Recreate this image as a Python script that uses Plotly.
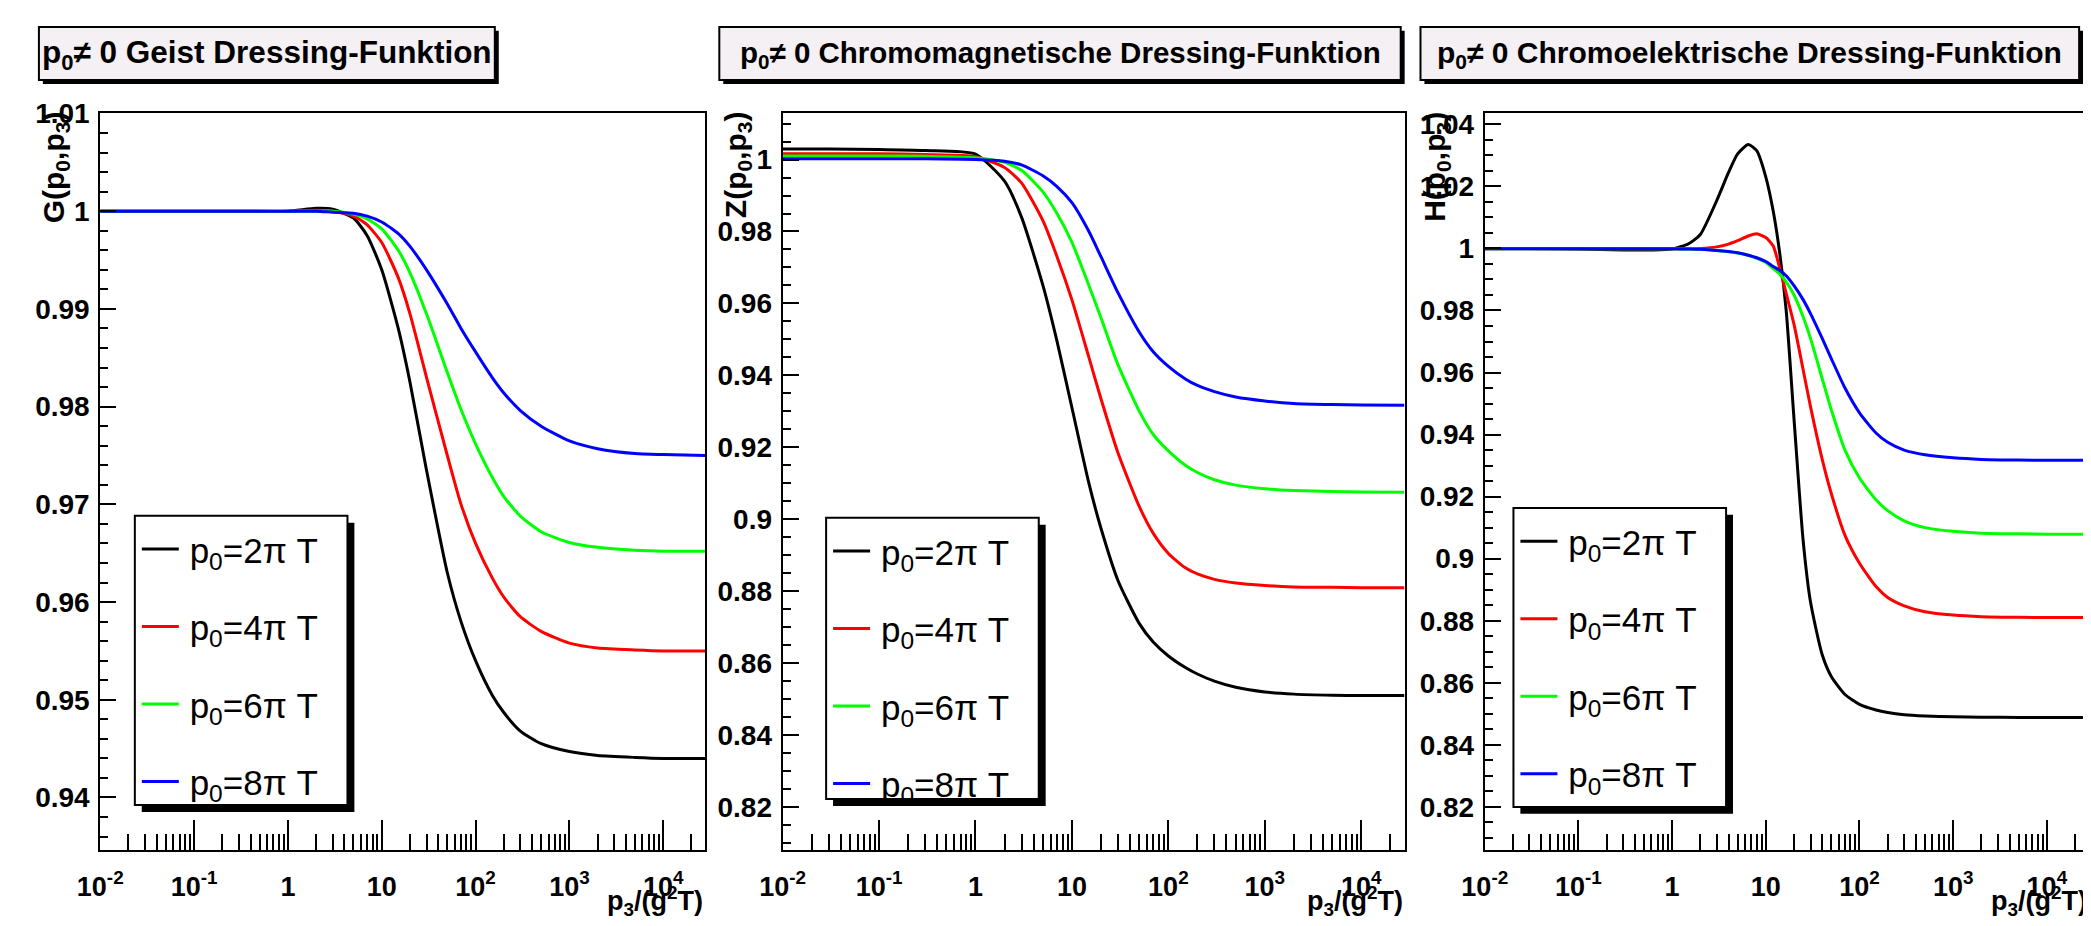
import plotly.graph_objects as go

# ---------------- data ----------------
# sample positions p3/(g^2 T) for the G and Z panels
x_GZ = [0.01, 0.03, 0.1, 0.3, 1, 2, 3, 5, 7, 10, 15, 20, 30, 50, 70, 100,
        150, 200, 300, 500, 1000, 2000, 5000, 10000, 28000]
# sample positions for the H panel (denser around the bump)
x_H = [0.01, 0.03, 0.1, 0.3, 0.6, 1, 1.5, 2, 3, 4, 5, 6.5, 8, 10, 12, 14, 16.5, 20, 25, 30,
       40, 50, 70, 100, 150, 200, 300, 500, 1000, 2000, 5000, 10000, 28000]

series_names = ["\u2006p<sub>0</sub>=2π T", "\u2006p<sub>0</sub>=4π T",
                "\u2006p<sub>0</sub>=6π T", "\u2006p<sub>0</sub>=8π T"]
series_colors = ["#000000", "#ff0000", "#00ff00", "#0000ff"]

# Geist (ghost) dressing function G
G_2pi = [1, 1, 1, 1, 1.0000, 1.0003, 1.0002, 0.9993, 0.9975, 0.9940, 0.9880, 0.9825, 0.9735,
         0.9630, 0.9580, 0.9540, 0.9505, 0.9487, 0.9468, 0.9455, 0.9447, 0.9443, 0.9441, 0.9440, 0.9440]
G_4pi = [1, 1, 1, 1, 1.0000, 1.0001, 1.0000, 0.9995, 0.9986, 0.9968, 0.9932, 0.9895, 0.9830,
         0.9750, 0.9700, 0.9660, 0.9625, 0.9605, 0.9585, 0.9570, 0.9558, 0.9553, 0.9551, 0.9550, 0.9550]
G_6pi = [1, 1, 1, 1, 1.0000, 1.0000, 1.0000, 0.9997, 0.9992, 0.9982, 0.9960, 0.9937, 0.9895,
         0.9835, 0.9797, 0.9762, 0.9728, 0.9708, 0.9688, 0.9672, 0.9661, 0.9656, 0.9653, 0.9652, 0.9652]
G_8pi = [1, 1, 1, 1, 1.0000, 1.0000, 0.9999, 0.9998, 0.9995, 0.9989, 0.9977, 0.9964, 0.9940,
         0.9905, 0.9880, 0.9856, 0.9830, 0.9814, 0.9796, 0.9780, 0.9765, 0.9757, 0.9752, 0.9751, 0.9750]

# Chromomagnetic dressing function Z
Z_2pi = [1.0029, 1.0029, 1.0028, 1.0025, 1.0015, 0.9940, 0.9840, 0.9650, 0.9495, 0.9310, 0.9100,
         0.8975, 0.8830, 0.8710, 0.8658, 0.8620, 0.8588, 0.8570, 0.8550, 0.8533, 0.8520, 0.8514, 0.8511, 0.8510, 0.8510]
Z_4pi = [1.0016, 1.0016, 1.0016, 1.0014, 1.0008, 0.9978, 0.9935, 0.9830, 0.9730, 0.9610, 0.9450,
         0.9335, 0.9185, 0.9035, 0.8960, 0.8905, 0.8865, 0.8848, 0.8833, 0.8823, 0.8816, 0.8812, 0.8811, 0.8810, 0.8810]
Z_6pi = [1.0010, 1.0010, 1.0010, 1.0009, 1.0005, 0.9992, 0.9970, 0.9910, 0.9850, 0.9770, 0.9650,
         0.9560, 0.9430, 0.9300, 0.9235, 0.9190, 0.9150, 0.9130, 0.9110, 0.9095, 0.9085, 0.9080, 0.9077, 0.9076, 0.9075]
Z_8pi = [1.0002, 1.0002, 1.0002, 1.0002, 1.0000, 0.9995, 0.9985, 0.9955, 0.9925, 0.9880, 0.9800,
         0.9730, 0.9630, 0.9520, 0.9465, 0.9425, 0.9390, 0.9372, 0.9355, 0.9340, 0.9329, 0.9322, 0.9319, 0.9318, 0.9317]

# Chromoelectric dressing function H
H_2pi = [1.0000, 1.0000, 0.9998, 0.9995, 0.9995, 0.9998, 1.0015, 1.0045, 1.0155, 1.0245, 1.0305, 1.0335,
         1.0315, 1.0230, 1.0120, 0.9990, 0.9800, 0.9450, 0.9060, 0.8860, 0.8690, 0.8620, 0.8562, 0.8530,
         0.8512, 0.8504, 0.8497, 0.8493, 0.8490, 0.8489, 0.8488, 0.8488, 0.8488]
H_4pi = [0.9999, 0.9999, 0.9999, 0.9999, 0.9999, 0.9999, 0.9999, 1.0000, 1.0005, 1.0014, 1.0025, 1.0040,
         1.0047, 1.0035, 1.0008, 0.9939, 0.9855, 0.9755, 0.9610, 0.9490, 0.9320, 0.9210, 0.9075, 0.8985,
         0.8910, 0.8875, 0.8848, 0.8829, 0.8818, 0.8813, 0.8811, 0.8810, 0.8810]
H_6pi = [0.9999, 0.9999, 0.9999, 0.9999, 0.9999, 0.9999, 0.9998, 0.9997, 0.9993, 0.9989, 0.9985, 0.9978,
         0.9968, 0.9955, 0.9935, 0.9918, 0.9892, 0.9850, 0.9780, 0.9710, 0.9580, 0.9480, 0.9350, 0.9260,
         0.9190, 0.9155, 0.9122, 0.9100, 0.9088, 0.9082, 0.9080, 0.9079, 0.9079]
H_8pi = [0.9999, 0.9999, 0.9999, 0.9999, 0.9999, 0.9999, 0.9998, 0.9997, 0.9993, 0.9990, 0.9986, 0.9978,
         0.9970, 0.9958, 0.9942, 0.9930, 0.9912, 0.9880, 0.9835, 0.9790, 0.9710, 0.9645, 0.9550, 0.9470,
         0.9405, 0.9375, 0.9350, 0.9335, 0.9325, 0.9320, 0.9318, 0.9317, 0.9317]

panel_titles = ["p<sub>0</sub>≠ 0 Geist Dressing-Funktion",
                "p<sub>0</sub>≠ 0 Chromomagnetische Dressing-Funktion",
                "p<sub>0</sub>≠ 0 Chromoelektrische Dressing-Funktion"]
y_titles = ["G(p<sub>0</sub>,p<sub>3</sub>)", "Z(p<sub>0</sub>,p<sub>3</sub>)", "H(p<sub>0</sub>,p<sub>3</sub>)"]
x_title = "p<sub>3</sub>/(g<sup>2</sup>T)"

x_tickvals = [0.01, 0.1, 1, 10, 100, 1000, 10000]
x_ticktext = ["10<sup>-2</sup>", "10<sup>-1</sup>", "1", "10", "10<sup>2</sup>", "10<sup>3</sup>", "10<sup>4</sup>"]

y1_tickvals = [0.94, 0.95, 0.96, 0.97, 0.98, 0.99, 1.0, 1.01]
y1_ticktext = ["0.94", "0.95", "0.96", "0.97", "0.98", "0.99", "1", "1.01"]
y2_tickvals = [0.82, 0.84, 0.86, 0.88, 0.90, 0.92, 0.94, 0.96, 0.98, 1.0]
y2_ticktext = ["0.82", "0.84", "0.86", "0.88", "0.9", "0.92", "0.94", "0.96", "0.98", "1"]
y3_tickvals = [0.82, 0.84, 0.86, 0.88, 0.90, 0.92, 0.94, 0.96, 0.98, 1.0, 1.02, 1.04]
y3_ticktext = ["0.82", "0.84", "0.86", "0.88", "0.9", "0.92", "0.94", "0.96", "0.98", "1", "1.02", "1.04"]

y_ranges = [[0.9346, 1.0100], [0.8080, 1.0128], [0.8060, 1.0435]]
x_log_range = [-2, 4.45]

# ---------------- layout geometry (page pixels of the 2091x926 window) ----------------
PAGE_W, PAGE_H = 2091, 926
OFF = 8                       # default body margin of the html page
W, H = PAGE_W - OFF, PAGE_H - OFF

FRAME_TOP, FRAME_BOTTOM = 100, 849
frames_x = [(78, 690), (768, 1397), (1478, 2089)]
title_boxes = [(16, 12, 477, 66), (704, 12, 1393, 66), (1413, 12, 2079, 66)]
title_sizes = [31.5, 29.5, 30]
legend_boxes = [(113, 509, 328, 803), (812, 511, 1027, 797), (1507, 501, 1722, 805)]
ytitle_x = [33, 722, 1429]


def px(x):
    return (x - OFF) / W


def py(y):
    return 1 - (y - OFF) / H


FONT = "Liberation Sans, Arial, Helvetica, sans-serif"

fig = go.Figure()
panel_x = [x_GZ, x_GZ, x_H]
panel_data = [
    [G_2pi, G_4pi, G_6pi, G_8pi],
    [Z_2pi, Z_4pi, Z_6pi, Z_8pi],
    [H_2pi, H_4pi, H_6pi, H_8pi],
]
legend_ids = ["legend", "legend2", "legend3"]

for p in range(3):
    xa = "x" if p == 0 else f"x{p+1}"
    ya = "y" if p == 0 else f"y{p+1}"
    for s in range(4):
        fig.add_trace(go.Scatter(
            x=panel_x[p], y=panel_data[p][s], mode="lines",
            line=dict(color=series_colors[s], width=3, shape="spline", smoothing=0.6),
            name=series_names[s], xaxis=xa, yaxis=ya,
            legend=legend_ids[p], legendgroup=f"p{p}s{s}", showlegend=True,
        ))

layout = dict(
    width=W, height=H, margin=dict(l=0, r=0, t=0, b=0),
    paper_bgcolor="white", plot_bgcolor="white",
    font=dict(family=FONT, color="black"),
    shapes=[], annotations=[],
)

ytick_sets = [(y1_tickvals, y1_ticktext, 0.002), (y2_tickvals, y2_ticktext, 0.005), (y3_tickvals, y3_ticktext, 0.005)]

for p in range(3):
    xk = "xaxis" if p == 0 else f"xaxis{p+1}"
    yk = "yaxis" if p == 0 else f"yaxis{p+1}"
    xa = "x" if p == 0 else f"x{p+1}"
    ya = "y" if p == 0 else f"y{p+1}"
    x0, x1 = frames_x[p]
    layout[xk] = dict(
        type="log", range=x_log_range, domain=[px(x0), px(x1)], anchor=ya,
        showgrid=False, zeroline=False, showline=True, linecolor="black", linewidth=2, mirror=True,
        ticks="inside", ticklen=30, tickwidth=2, tickcolor="black",
        tickvals=x_tickvals, ticktext=x_ticktext, ticklabelstandoff=11,
        tickfont=dict(family=FONT, size=27, color="black", weight="bold"),
        minor=dict(ticks="inside", ticklen=16, tickwidth=2, tickcolor="black", dtick="D1", showgrid=False),
    )
    tv, tt, mdt = ytick_sets[p]
    layout[yk] = dict(
        range=y_ranges[p], domain=[py(FRAME_BOTTOM), py(FRAME_TOP)], anchor=xa,
        showgrid=False, zeroline=False, showline=True, linecolor="black", linewidth=2, mirror=True,
        ticks="inside", ticklen=16, tickwidth=2, tickcolor="black",
        tickvals=tv, ticktext=tt, ticklabelstandoff=3,
        tickfont=dict(family=FONT, size=28, color="black", weight="bold"),
        minor=dict(ticks="inside", ticklen=8, tickwidth=2, tickcolor="black", dtick=mdt, showgrid=False),
    )

    # title box with shadow
    bx0, by0, bx1, by1 = title_boxes[p]
    layout["shapes"].append(dict(type="rect", xref="paper", yref="paper",
                                 x0=px(bx0 + 4), x1=px(bx1 + 4), y0=py(by1 + 4), y1=py(by0 + 4),
                                 fillcolor="black", line=dict(width=0), layer="above"))
    layout["shapes"].append(dict(type="rect", xref="paper", yref="paper",
                                 x0=px(bx0), x1=px(bx1), y0=py(by1), y1=py(by0),
                                 fillcolor="#f4f0f4", line=dict(color="black", width=2), layer="above"))
    layout["annotations"].append(dict(
        text=f"<b>{panel_titles[p]}</b>", xref="paper", yref="paper",
        x=px((bx0 + bx1) / 2), y=py((by0 + by1) / 2 + 1), xanchor="center", yanchor="middle",
        showarrow=False, font=dict(family=FONT, size=title_sizes[p], color="black")))

    # legend box with shadow
    lx0, ly0, lx1, ly1 = legend_boxes[p]
    layout["shapes"].append(dict(type="rect", xref="paper", yref="paper",
                                 x0=px(lx0 + 7), x1=px(lx1 + 7), y0=py(ly1 + 7), y1=py(ly0 + 7),
                                 fillcolor="black", line=dict(width=0), layer="above"))
    layout["shapes"].append(dict(type="rect", xref="paper", yref="paper",
                                 x0=px(lx0), x1=px(lx1), y0=py(ly1), y1=py(ly0),
                                 fillcolor="white", line=dict(color="black", width=2), layer="above"))
    layout[legend_ids[p]] = dict(
        x=px(lx0 + 2), y=py(ly0 + 4), xanchor="left", yanchor="top",
        bgcolor="rgba(0,0,0,0)", borderwidth=0, itemwidth=37,
        font=dict(family=FONT, size=35, color="black"),
        tracegroupgap=29, itemclick=False, itemdoubleclick=False,
    )

    # axis titles
    layout["annotations"].append(dict(
        text=f"<b>{y_titles[p]}</b>", xref="paper", yref="paper", textangle=-90,
        x=px(ytitle_x[p]), y=py(96), xanchor="center", yanchor="top",
        showarrow=False, font=dict(family=FONT, size=30, color="black")))
    layout["annotations"].append(dict(
        text=f"<b>{x_title}</b>", xref="paper", yref="paper",
        x=px(x1), y=py(922), xanchor="right", yanchor="bottom",
        showarrow=False, font=dict(family=FONT, size=27, color="black")))

fig.update_layout(**layout)
fig.write_html("out.html")
